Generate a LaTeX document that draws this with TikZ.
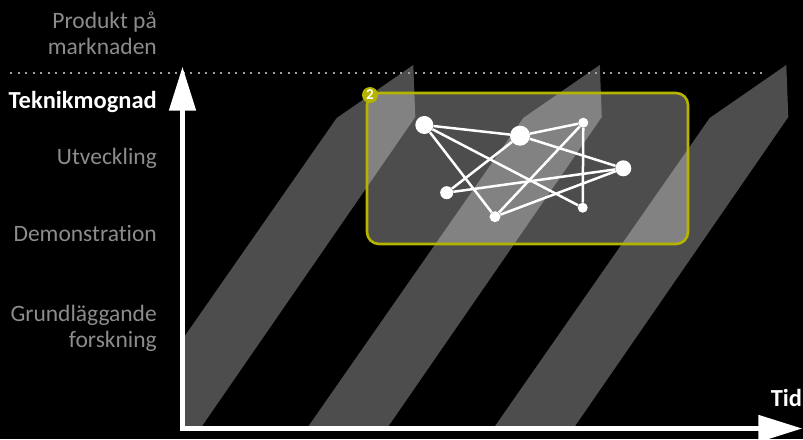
\documentclass[tikz,border=0pt]{standalone}
\usepackage{fontspec}
\setmainfont{Carlito}[Ligatures={NoCommon}]
\usetikzlibrary{arrows.meta}
\definecolor{bandgray}{RGB}{77,77,77}
\definecolor{labgray}{RGB}{140,140,140}
\definecolor{dotgray}{RGB}{160,160,160}
\definecolor{olive}{RGB}{181,181,0}
\tikzset{
  x=1pt, y=-1pt,
  band/.style={fill=bandgray, draw=none},
  axisline/.style={draw=white, line width=5pt, -{Triangle[length=44pt, width=26pt]}},
  lvl/.style={anchor=base east, inner sep=0pt, text=labgray, font=\fontsize{23.5}{26}\selectfont},
  lvlbold/.style={anchor=base east, inner sep=0pt, text=white, font=\fontsize{24.5}{26}\selectfont\bfseries},
  dot/.style={circle, fill=white, draw=none, inner sep=0pt},
  edge/.style={draw=white, line width=2.5pt},
  projbox/.style={draw=olive, line width=2.6pt, rounded corners=12pt, fill=white, fill opacity=0.3},
  badge/.style={circle, fill=olive, draw=none, inner sep=0pt, minimum size=16pt, text=white, font=\fontsize{15}{15}\selectfont\bfseries}
}
\begin{document}
\begin{tikzpicture}
\fill[black] (0,0) rectangle (803,439);
\useasboundingbox (0,0) rectangle (803,439);
% bands
\begin{scope}
\clip (182,0) rectangle (803,439);
\path[band] (120.7,428) -- (336.7,118) -- (413.3,65) -- (415.3,117) -- (200.7,428) -- cycle;
\end{scope}
\path[band] (307.2,428) -- (523.2,118) -- (599.8,65) -- (601.8,117) -- (387.2,428) -- cycle;
\path[band] (493.7,428) -- (709.7,118) -- (786.3,65) -- (788.3,117) -- (573.7,428) -- cycle;
% dotted line
\coordinate (dl) at (10,73);
\coordinate (dr) at (765,73);
\draw[dotgray, line width=2.2pt, dash pattern=on 2.2pt off 5.3pt] (dl) -- (dr);
% axes
\coordinate (ybot) at (182.5,431);
\coordinate (ytop) at (182.5,66.7);
\coordinate (xl) at (180,428.5);
\coordinate (xr) at (802.3,428.5);
\draw[axisline] (ybot) -- (ytop);
\draw[axisline] (xl) -- (xr);
% project box
\path[projbox] (367,93) rectangle (688,244);
% network
\node[dot, minimum size=18pt] (A) at (424.3,125) {};
\node[dot, minimum size=20pt] (B) at (520,135.7) {};
\node[dot, minimum size=10pt] (C) at (583.3,122.7) {};
\node[dot, minimum size=16pt] (D) at (623.3,168.3) {};
\node[dot, minimum size=13pt] (E) at (446.7,192.7) {};
\node[dot, minimum size=11pt] (F) at (495,216.7) {};
\node[dot, minimum size=10pt] (G) at (582.7,207.7) {};
\draw[edge] (A) -- (B);
\draw[edge] (A) -- (F);
\draw[edge] (A) -- (G);
\draw[edge] (B) -- (C);
\draw[edge] (B) -- (E);
\draw[edge] (B) -- (D);
\draw[edge] (C) -- (F);
\draw[edge] (C) -- (G);
\draw[edge] (E) -- (D);
\draw[edge] (F) -- (D);
\node[badge] (badge) at (370,95) {2};
% labels
\node[lvl] (p1) at (157,28.3) {Produkt på};
\node[lvl] (p2) at (157,54.3) {marknaden};
\node[lvlbold] (tm) at (157,108.3) {Teknikmognad};
\node[lvl] (ut) at (157,164) {Utveckling};
\node[lvl] (de) at (157,241.7) {Demonstration};
\node[lvl] (g1) at (157,321.7) {Grundläggande};
\node[lvl] (g2) at (157,347.7) {forskning};
\node[lvlbold] (tid) at (802.3,406.7) {Tid};
\end{tikzpicture}
\end{document}
